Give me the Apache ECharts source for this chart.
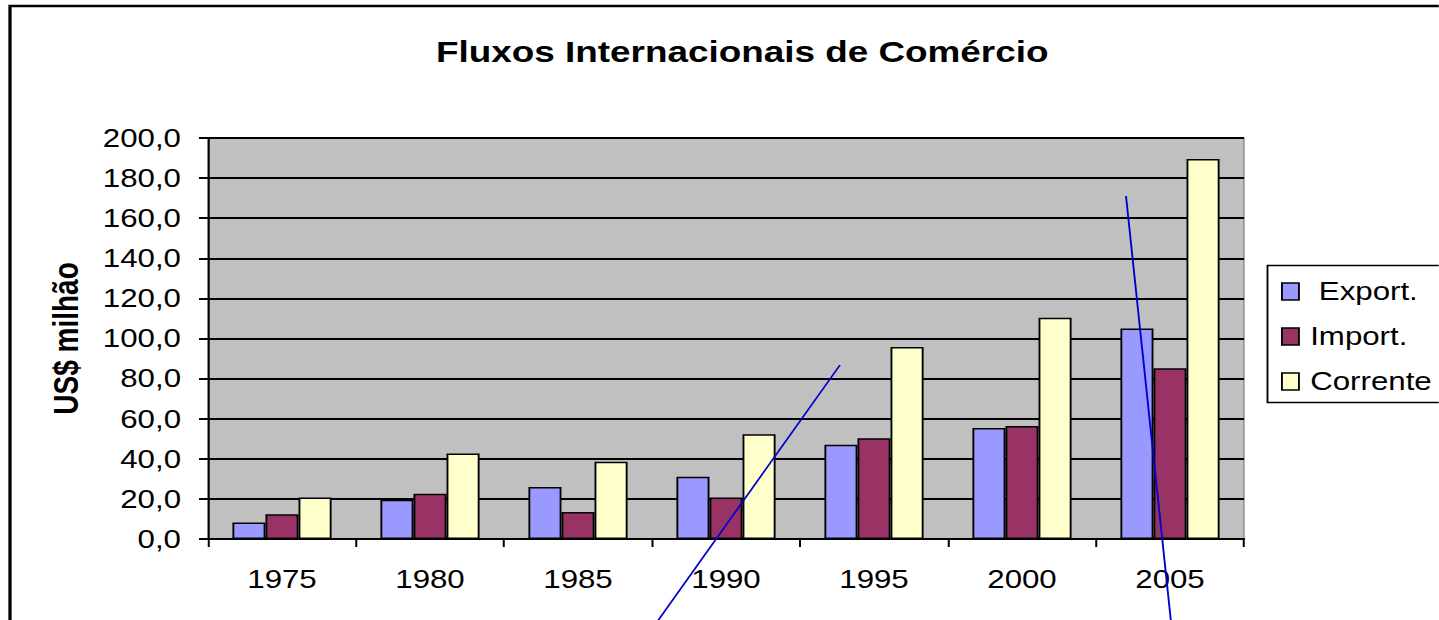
<!DOCTYPE html>
<html>
<head>
<meta charset="utf-8">
<script src="https://cdn.jsdelivr.net/npm/echarts@6/dist/echarts.min.js"></script>
<style>
html,body{margin:0;padding:0;background:#fff;overflow:hidden;}
#wrap{width:1439px;height:620px;overflow:hidden;}
#chart{height:620px;transform-origin:0 0;}
</style>
</head>
<body>
<div id="wrap"><div id="chart"></div></div>
<script>
const categories = ['1975','1980','1985','1990','1995','2000','2005'];
const exportVals = [8.2, 19.6, 25.9, 31.0, 47.0, 55.3, 105.0];
const importVals = [12.3, 22.6, 13.5, 20.7, 50.2, 56.4, 85.1];
const correnteVals = [20.7, 42.7, 38.5, 52.2, 95.7, 110.4, 189.5];
const seriesNames = [' Export.', 'Import.', 'Corrente'];
const yTicks = {min: 0, max: 200, interval: 20};

// The reference picture is horizontally stretched; reproduce that with a CSS scaleX.
const S = 1.25;
const W = 1439 / S;
const X = px => px / S;
const el = document.getElementById('chart');
el.style.width = W + 'px';
el.style.transform = 'scaleX(' + S + ')';

const chart = echarts.init(el, null, {renderer: 'svg', width: W, height: 620});
const font = 'Arial, "Liberation Sans", sans-serif';
const barBorder = {borderColor: '#000', borderWidth: 1.5};

chart.setOption({
  animation: false,
  backgroundColor: '#fff',
  title: {
    text: 'Fluxos Internacionais de Comércio',
    left: X(736), top: 32, textAlign: 'center',
    textStyle: {fontFamily: font, fontSize: 29.5, fontWeight: 'bold', color: '#000'}
  },
  legend: {
    orient: 'vertical',
    left: X(1267), top: 265,
    padding: [14, 10, 9, X(14)],
    itemGap: 20,
    itemWidth: X(17), itemHeight: 17,
    icon: 'rect',
    borderWidth: 0,
    textStyle: {fontFamily: font, fontSize: 25, color: '#000', padding: [0, 0, 0, 4]},
    itemStyle: {borderColor: '#000', borderWidth: 1.5},
    data: seriesNames
  },
  grid: {
    left: X(208), right: W - X(1244), top: 138, bottom: 81,
    show: true, backgroundColor: '#C0C0C0', borderColor: '#808080', borderWidth: 1
  },
  xAxis: {
    type: 'category',
    data: categories,
    axisLine: {lineStyle: {color: '#000', width: 2}},
    axisTick: {show: true, length: 8, lineStyle: {color: '#000', width: 1.6}},
    axisLabel: {fontFamily: font, fontSize: 25, color: '#000', margin: 28}
  },
  yAxis: {
    type: 'value',
    min: yTicks.min, max: yTicks.max, interval: yTicks.interval,
    name: 'US$ milhão',
    nameLocation: 'middle',
    nameGap: 100,
    nameMoveOverlap: false,
    nameRotate: 90,
    nameTextStyle: {fontFamily: font, fontSize: 28, fontWeight: 'bold', color: '#000'},
    axisLine: {show: true, lineStyle: {color: '#000', width: 1.6}},
    axisTick: {show: true, length: X(9), lineStyle: {color: '#000', width: 2}},
    axisLabel: {
      fontFamily: font, fontSize: 25, color: '#000', margin: X(27),
      formatter: v => v.toFixed(1).replace('.', ',')
    },
    splitLine: {lineStyle: {color: '#000', width: 2}}
  },
  series: [
    {name: seriesNames[0], type: 'bar', data: exportVals, barGap: '0%', barCategoryGap: '33%',
     itemStyle: Object.assign({color: '#9999FF'}, barBorder)},
    {name: seriesNames[1], type: 'bar', data: importVals, barGap: '0%', barCategoryGap: '33%',
     itemStyle: Object.assign({color: '#993366'}, barBorder)},
    {name: seriesNames[2], type: 'bar', data: correnteVals, barGap: '0%', barCategoryGap: '33%',
     itemStyle: Object.assign({color: '#FFFFCC'}, barBorder)}
  ],
  graphic: [
    {type: 'rect', shape: {x: X(10), y: 6, width: 1600, height: 800},
     style: {fill: 'none', stroke: '#000', lineWidth: 2.6}, z: 100},
    {type: 'rect', shape: {x: X(1267.5), y: 265.5, width: 300, height: 137},
     style: {fill: 'none', stroke: '#000', lineWidth: 1.5}, z: 100},
    {type: 'line', shape: {x1: X(840), y1: 365, x2: X(657), y2: 622},
     style: {stroke: '#0000CC', lineWidth: 1.5}, z: 100},
    {type: 'line', shape: {x1: X(1126), y1: 196, x2: X(1171), y2: 622},
     style: {stroke: '#0000CC', lineWidth: 1.5}, z: 100}
  ]
});
</script>
</body>
</html>
